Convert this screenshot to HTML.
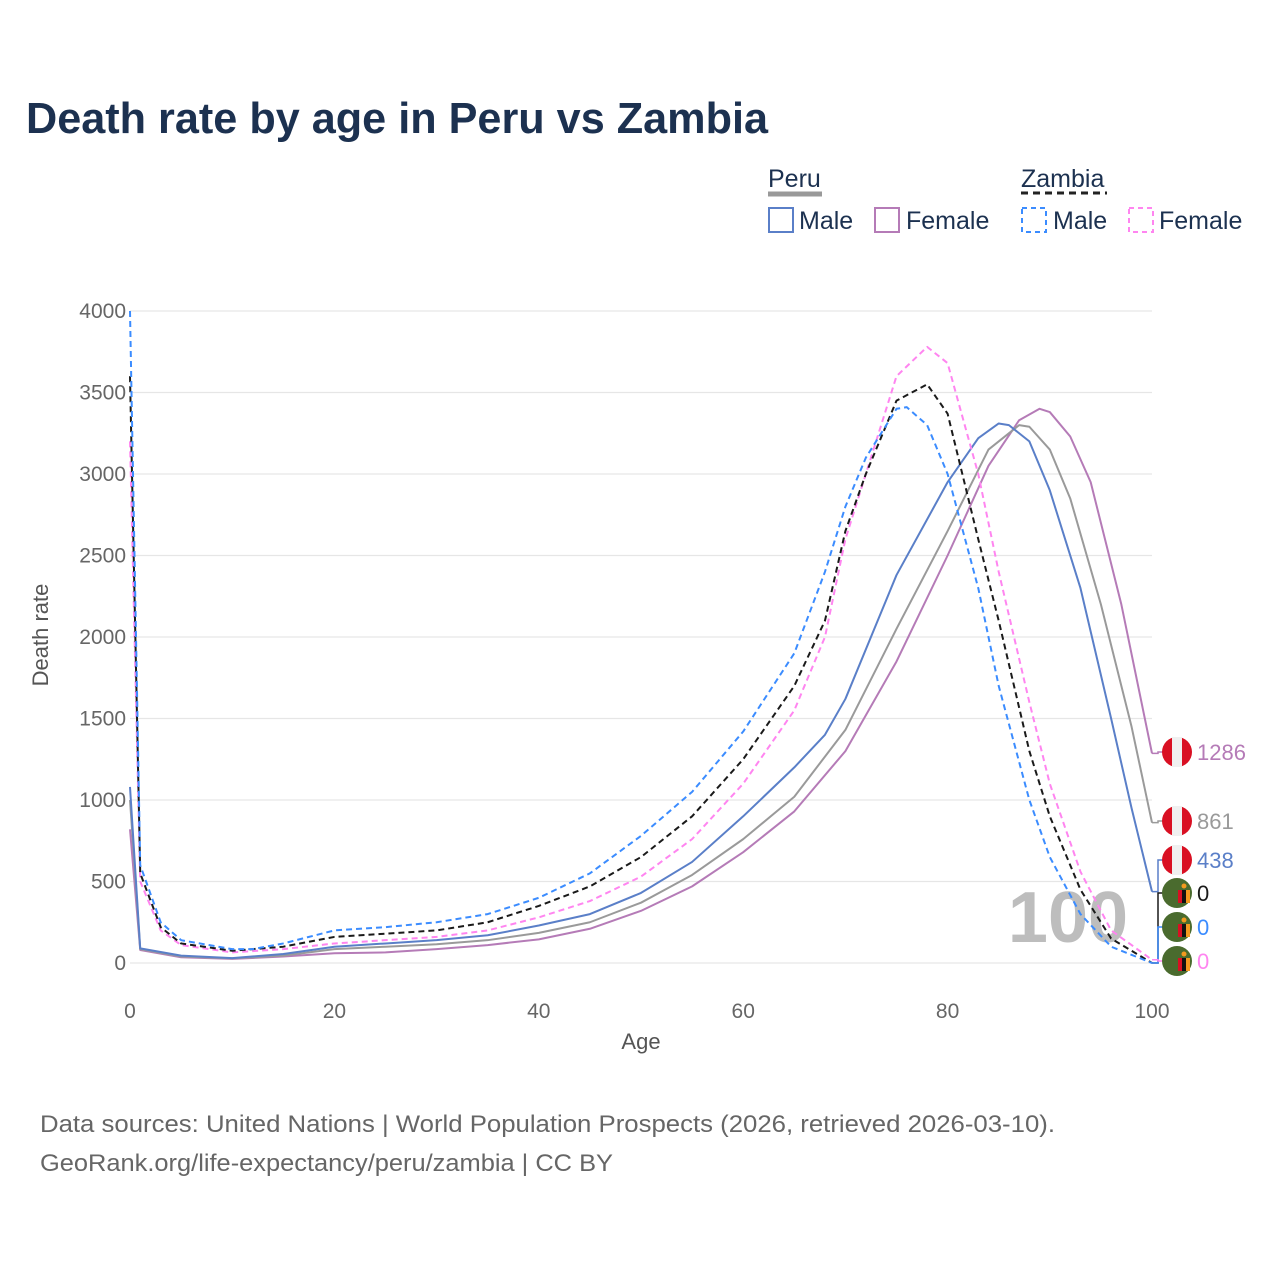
<!DOCTYPE html>
<html><head><meta charset="utf-8"><style>
body{margin:0;background:#fff;font-family:"Liberation Sans",sans-serif;}
svg text{font-family:"Liberation Sans",sans-serif;}
</style></head><body>
<svg id="chart" width="1280" height="1280" xmlns="http://www.w3.org/2000/svg">
<text x="26" y="133" font-size="44" font-weight="bold" fill="#1c3150" textLength="742" lengthAdjust="spacingAndGlyphs">Death rate by age in Peru vs Zambia</text>
<g font-size="25" fill="#1c3150">
<text x="768" y="187">Peru</text>
<line x1="768" y1="194" x2="822" y2="194" stroke="#999" stroke-width="5"/>
<text x="1021" y="187">Zambia</text>
<line x1="1021" y1="193" x2="1107" y2="193" stroke="#222" stroke-width="3" stroke-dasharray="7,5"/>
<rect x="769" y="208" width="24" height="24" fill="none" stroke="#5a7fc8" stroke-width="2"/>
<text x="799" y="229">Male</text>
<rect x="875" y="208" width="24" height="24" fill="none" stroke="#b57bb7" stroke-width="2"/>
<text x="906" y="229">Female</text>
<rect x="1022" y="208" width="24" height="24" fill="none" stroke="#3b8cff" stroke-width="2" stroke-dasharray="5,4"/>
<text x="1053" y="229">Male</text>
<rect x="1129" y="208" width="24" height="24" fill="none" stroke="#ff85f0" stroke-width="2" stroke-dasharray="5,4"/>
<text x="1159" y="229">Female</text>
</g>
<g id="grid"></g><g id="series"></g><g id="labels"></g>
<text x="33" y="620" font-size="22" fill="#555" transform="rotate(-90 48 620)" text-anchor="middle">Death rate</text>
<text x="641" y="1049" font-size="22" fill="#555" text-anchor="middle">Age</text>
<text x="40" y="1132" font-size="24" fill="#666" textLength="1015" lengthAdjust="spacingAndGlyphs">Data sources: United Nations | World Population Prospects (2026, retrieved 2026-03-10).</text>
<text x="40" y="1171" font-size="24" fill="#666" textLength="573" lengthAdjust="spacingAndGlyphs">GeoRank.org/life-expectancy/peru/zambia | CC BY</text>
</svg>
<script>
const xTicks=[0,20,40,60,80,100];
const yTicks=[0,500,1000,1500,2000,2500,3000,3500,4000];
const peruMaleAges=[0,1,5,10,15,20,25,30,35,40,45,50,55,60,65,68,70,75,80,83,85,86,88,90,93,96,98,100];
const peruMaleVals=[1080,90,45,30,55,100,120,140,170,230,300,430,620,900,1200,1400,1620,2380,2950,3220,3310,3300,3200,2900,2300,1500,950,438];
const peruBothAges=[0,1,5,10,15,20,25,30,35,40,45,50,55,60,65,70,75,80,84,87,88,90,92,95,98,100];
const peruBothVals=[1000,85,40,28,45,85,100,115,140,185,250,370,540,760,1020,1430,2050,2650,3150,3300,3290,3150,2850,2200,1450,861];
const peruFemaleAges=[0,1,5,10,15,20,25,30,35,40,45,50,55,60,65,70,75,80,84,87,89,90,92,94,97,100];
const peruFemaleVals=[820,80,35,25,40,60,65,85,110,145,210,320,470,680,930,1300,1850,2500,3050,3330,3400,3380,3230,2950,2200,1286];
const zamMaleAges=[0,1,3,5,10,12,15,20,25,30,35,40,45,50,55,60,65,68,70,72,75,76,78,80,83,85,88,90,93,96,100];
const zamMaleVals=[4000,600,250,140,85,85,120,200,220,250,300,400,550,780,1050,1420,1900,2400,2800,3100,3400,3410,3300,3000,2300,1700,1000,650,300,100,0];
const zamBothAges=[0,1,3,5,10,15,20,25,30,35,40,45,50,55,60,65,68,70,72,75,78,80,83,85,88,90,93,96,100];
const zamBothVals=[3600,550,220,120,75,100,160,180,200,250,350,470,650,900,1250,1700,2100,2650,3000,3450,3550,3370,2600,2100,1300,900,450,150,0];
const zamFemaleAges=[0,1,3,5,10,15,20,25,30,35,40,45,50,55,60,65,68,70,72,75,78,80,83,85,88,90,93,96,100];
const zamFemaleVals=[3200,500,200,110,65,85,120,140,160,200,280,380,530,760,1100,1550,2000,2600,3000,3600,3780,3680,3000,2400,1600,1100,560,200,20];
const endLabels=["1286","861","438","0","0","0"];

const NS="http://www.w3.org/2000/svg";
const X=a=>130+a*(1152-130)/100;
const Y=v=>963-v*(963-311)/4000;
function mk(t,attrs,parent){const e=document.createElementNS(NS,t);for(const k in attrs)e.setAttribute(k,attrs[k]);parent.appendChild(e);return e;}
const grid=document.getElementById('grid');
yTicks.forEach(v=>{
  const l=mk('line',{x1:130,x2:1152,y1:Y(v),y2:Y(v),stroke:'#e6e6e6','stroke-width':1.2},grid);
  
  
  const t=mk('text',{x:126,y:Y(v)+7,'font-size':21,fill:'#666','text-anchor':'end'},grid);t.textContent=v;
  
  
});
xTicks.forEach(a=>{
  const t=mk('text',{x:X(a),y:1018,'font-size':21,fill:'#666','text-anchor':'middle'},grid);t.textContent=a;
  
  
});
const big=mk('text',{x:1068,y:942,'font-size':72,'font-weight':'bold',fill:'#bdbdbd','text-anchor':'middle'},grid);big.textContent='100';



const ser=document.getElementById('series');
function line(ages,vals,color,dash,name){
  const p=mk('polyline',{points:ages.map((a,i)=>X(a)+','+Y(vals[i])).join(' '),fill:'none',stroke:color,'stroke-width':2,'stroke-linejoin':'round'},ser);
  if(dash)p.setAttribute('stroke-dasharray','6,4');
  
  
}
line(peruFemaleAges,peruFemaleVals,'#b57bb7',false,'peru-female-line');
line(peruBothAges,peruBothVals,'#9a9a9a',false,'peru-both-line');
line(peruMaleAges,peruMaleVals,'#5a7fc8',false,'peru-male-line');
line(zamFemaleAges,zamFemaleVals,'#ff85f0',true,'zambia-female-line');
line(zamBothAges,zamBothVals,'#1a1a1a',true,'zambia-both-line');
line(zamMaleAges,zamMaleVals,'#3b8cff',true,'zambia-male-line');

const lab=document.getElementById('labels');
const endVals=[peruFemaleVals.at(-1),peruBothVals.at(-1),peruMaleVals.at(-1),zamBothVals.at(-1),zamMaleVals.at(-1),zamFemaleVals.at(-1)];
const labY=[752,821,860,893,927,961];
const labC=['#b57bb7','#9a9a9a','#5a7fc8','#1a1a1a','#3b8cff','#ff85f0'];
endVals.forEach((v,i)=>{
  const y0=Y(v),y1=labY[i];
  const c=mk('polyline',{points:`${X(100)},${y0} ${1158},${y0} ${1158},${y1} ${1163},${y1}`,fill:'none',stroke:labC[i],'stroke-width':1.5},lab);
  
  
  const g=mk('g',{},lab);
  
  
  const cx=1177;
  if(i<3){
    mk('circle',{cx:cx,cy:y1,r:15,fill:'#d91023'},g);
    mk('rect',{x:cx-5,y:y1-15,width:10,height:30,fill:'#f0f0f0'},g);
  }else{
    mk('circle',{cx:cx,cy:y1,r:15,fill:'#4a6b2e'},g);
    mk('rect',{x:cx+1,y:y1-3,width:4,height:13,fill:'#d91023'},g);
    mk('rect',{x:cx+5,y:y1-3,width:4,height:13,fill:'#111'},g);
    mk('rect',{x:cx+9,y:y1-3,width:4,height:13,fill:'#f39a1f'},g);
    mk('circle',{cx:cx+7,cy:y1-7,r:2.5,fill:'#f39a1f'},g);
  }
  const t=mk('text',{x:1197,y:y1+8,'font-size':22,fill:labC[i]},lab);t.textContent=endLabels[i];
  
  
});
</script>
</body></html>
